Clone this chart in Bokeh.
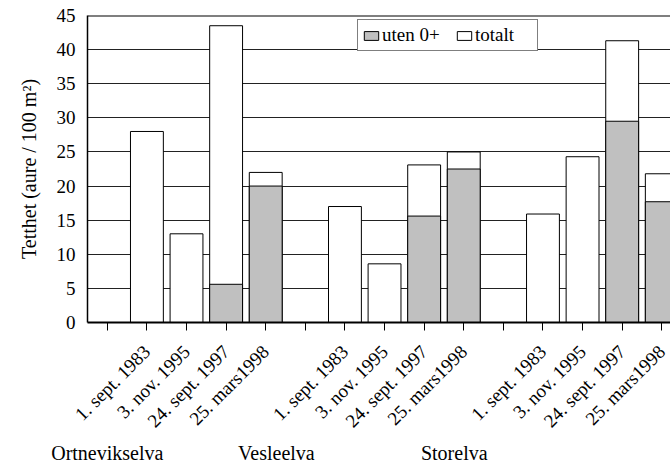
import math
from bokeh.plotting import figure
from bokeh.models import Range1d, FixedTicker, Span, Legend, LegendItem, LinearAxis
from bokeh.embed import file_html
from bokeh.resources import INLINE

# ---- data ----
rivers = ["Ortnevikselva", "Vesleelva", "Storelva"]
dates = ["1. sept. 1983", "3. nov. 1995", "24. sept. 1997", "25. mars1998"]
totalt_ortnevikselva = [28.0, 13.0, 43.5, 22.0]
totalt_vesleelva = [17.0, 8.6, 23.1, 25.0]
totalt_storelva = [15.9, 24.3, 41.3, 21.8]
uten0_ortnevikselva = [None, None, 5.6, 20.0]
uten0_vesleelva = [None, None, 15.6, 22.5]
uten0_storelva = [None, None, 29.5, 17.7]
y_ticks = [0, 5, 10, 15, 20, 25, 30, 35, 40, 45]

totalt = [totalt_ortnevikselva, totalt_vesleelva, totalt_storelva]
uten0 = [uten0_ortnevikselva, uten0_vesleelva, uten0_storelva]

FONT = "Liberation Serif"

# slot positions: one blank slot before each river group
xs, tops, gx, gtops = [0], [0.0], [], []
labels = {}
for g in range(3):
    base = g * 5
    labels[base] = ""
    for j, d in enumerate(dates):
        pos = base + 1 + j
        labels[pos] = d
        xs.append(pos)
        tops.append(totalt[g][j])
        if uten0[g][j] is not None:
            gx.append(pos)
            gtops.append(uten0[g][j])

p = figure(width=670, height=466, output_backend="svg", toolbar_location=None,
           x_range=Range1d(-0.5, 14.22), y_range=Range1d(0, 45),
           min_border_left=87, min_border_right=0, min_border_top=15, min_border_bottom=144)
p.outline_line_color = None
p.background_fill_color = "white"

bw = 0.83
r_tot = p.vbar(x=xs, top=tops, bottom=0, width=bw, fill_color="white", line_color="black", line_width=1)
r_ut = p.vbar(x=gx, top=gtops, bottom=0, width=bw, fill_color="#c0c0c0", line_color="black", line_width=1)

# grid
p.xgrid.visible = False
p.ygrid.ticker = FixedTicker(ticks=y_ticks)
p.ygrid.grid_line_color = "#222222"
p.ygrid.grid_line_width = 1
p.ygrid.level = "underlay"
p.add_layout(Span(location=45, dimension="width", line_color="black", line_width=2))

# x axis
p.xaxis.ticker = FixedTicker(ticks=list(range(15)))
p.xaxis.major_label_overrides = {k: v for k, v in labels.items()}
p.xaxis.major_label_orientation = math.pi / 4
p.xaxis.major_label_text_font = FONT
p.xaxis.major_label_text_font_size = "19px"
p.xaxis.major_label_text_color = "black"
p.xaxis.major_tick_in = 0
p.xaxis.major_tick_out = 8
p.xaxis.minor_tick_line_color = None
p.xaxis.axis_line_width = 2
p.xaxis.axis_line_color = "black"
p.xaxis.major_tick_line_color = "black"
p.xaxis.major_label_standoff = 18

# river names as a second, line-less axis below the dates
group_x = [0.0, 4.27, 8.76]
gaxis = LinearAxis(ticker=FixedTicker(ticks=group_x),
                   major_label_overrides={gxp: name for gxp, name in zip(group_x, rivers)})
gaxis.axis_line_color = None
gaxis.major_tick_line_color = None
gaxis.minor_tick_line_color = None
gaxis.major_tick_in = 0
gaxis.major_tick_out = 0
gaxis.major_label_standoff = 0
gaxis.major_label_text_font = FONT
gaxis.major_label_text_font_size = "20px"
gaxis.major_label_text_color = "black"
p.add_layout(gaxis, "below")

# y axis
p.yaxis.ticker = FixedTicker(ticks=y_ticks)
p.yaxis.major_label_text_font = FONT
p.yaxis.major_label_text_font_size = "19px"
p.yaxis.major_label_text_color = "black"
p.yaxis.major_tick_in = 0
p.yaxis.major_tick_out = 0
p.yaxis.minor_tick_line_color = None
p.yaxis.axis_line_color = "black"
p.yaxis.axis_line_width = 1.5
p.yaxis.major_label_standoff = 12
p.yaxis.axis_label = "Tetthet (aure / 100 m\u00b2)"
p.yaxis.axis_label_text_font = FONT
p.yaxis.axis_label_text_font_style = "normal"
p.yaxis.axis_label_text_font_size = "20px"
p.yaxis.axis_label_text_color = "black"
p.yaxis.axis_label_standoff = 14

legend = Legend(items=[LegendItem(label="uten 0+", renderers=[r_ut]),
                       LegendItem(label="totalt", renderers=[r_tot])],
                location=(270, 271), orientation="horizontal")
legend.label_text_font = FONT
legend.label_text_font_size = "19px"
legend.label_text_color = "black"
legend.glyph_width = 18
legend.glyph_height = 11
legend.label_standoff = 2
legend.label_width = 58
legend.spacing = 15
legend.padding = 4
legend.margin = 0
legend.border_line_color = "black"
legend.border_line_width = 1
legend.background_fill_color = "white"
legend.background_fill_alpha = 1
p.add_layout(legend, "center")

open("out.html", "w").write(file_html(p, INLINE))
